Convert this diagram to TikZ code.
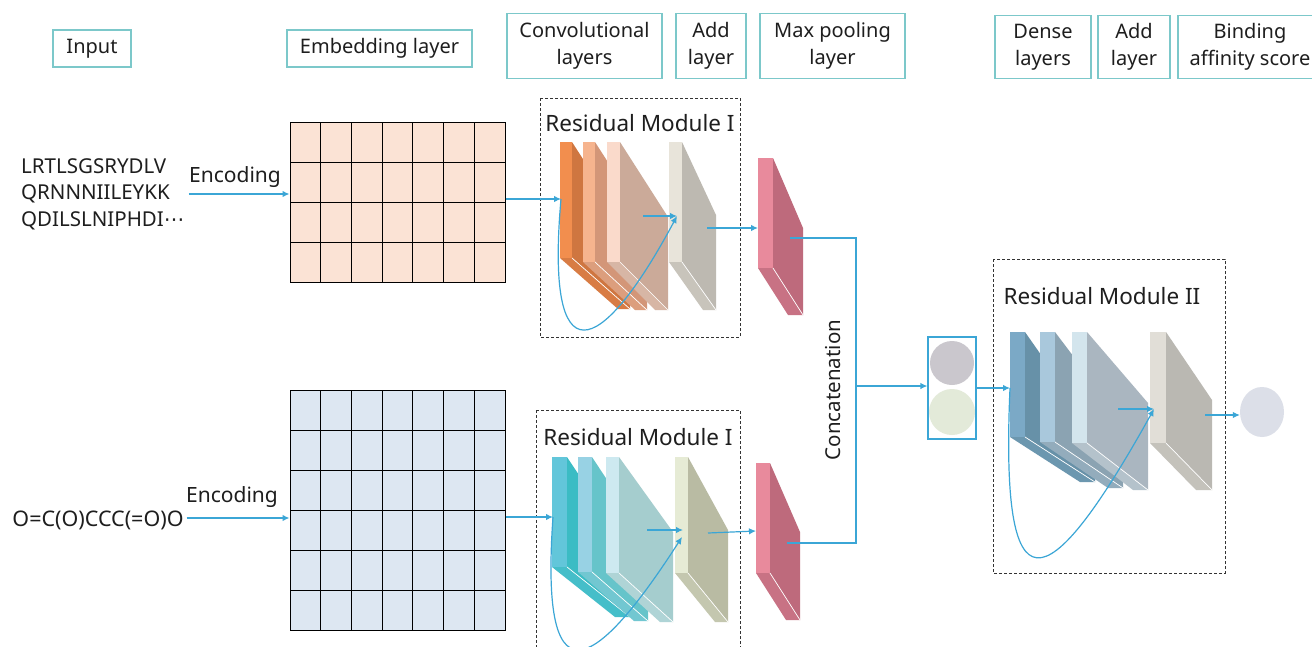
\documentclass[tikz,border=0pt]{standalone}
\usepackage{fontspec}
\setmainfont{Noto Sans}
\newfontfamily\djv{DejaVu Sans}
\usetikzlibrary{arrows.meta,shapes.geometric}
\definecolor{labc}{HTML}{7CC8CA}
\definecolor{txt}{HTML}{1E1E1E}
\definecolor{arrc}{HTML}{3BA6D6}
\definecolor{dashc}{HTML}{333333}
\definecolor{gridA}{HTML}{FBE3D5}
\definecolor{gridB}{HTML}{DDE7F2}
\definecolor{orAf}{HTML}{F28E4E}\definecolor{orAs}{HTML}{CF7640}
\definecolor{orBf}{HTML}{F6B48E}\definecolor{orBs}{HTML}{D39678}
\definecolor{orCf}{HTML}{FADACB}\definecolor{orCs}{HTML}{CBAA99}
\definecolor{adAf}{HTML}{E8E4DA}\definecolor{adAs}{HTML}{BDB9B1}
\definecolor{pkf}{HTML}{E88A9C}\definecolor{pks}{HTML}{BE6A7C}
\definecolor{tlAf}{HTML}{62C6DA}\definecolor{tlAs}{HTML}{3BBCC4}
\definecolor{tlBf}{HTML}{98D2E4}\definecolor{tlBs}{HTML}{66C4CA}
\definecolor{tlCf}{HTML}{CDE9F0}\definecolor{tlCs}{HTML}{A5CDCE}
\definecolor{adBf}{HTML}{E6EBD5}\definecolor{adBs}{HTML}{B9BBA3}
\definecolor{blAf}{HTML}{7BA9C6}\definecolor{blAs}{HTML}{6791A8}
\definecolor{blBf}{HTML}{A9C8DC}\definecolor{blBs}{HTML}{8BA3B2}
\definecolor{blCf}{HTML}{D3E5ED}\definecolor{blCs}{HTML}{AAB6C0}
\definecolor{adCf}{HTML}{E1DED7}\definecolor{adCs}{HTML}{BAB8B2}
\definecolor{cgray}{HTML}{CAC7CD}
\definecolor{cgreen}{HTML}{E3EAD9}
\definecolor{cout}{HTML}{DCDFE8}
% slab: x0 y0 w h dx dy1 dy2 front side
\newcommand{\slab}[9]{%
  \fill[#9] (#1+#3,#2) -- (#1+#3+#5,#2+#6) -- (#1+#3+#5,#2+#4+#7) -- (#1+#3,#2+#4) -- cycle;
  \fill[#9!75!#8] (#1,#2+#4) -- (#1+#3,#2+#4) -- (#1+#3+#5,#2+#4+#7) -- (#1+#5,#2+#4+#7) -- cycle;
  \fill[#8] (#1,#2) rectangle (#1+#3,#2+#4);
  \draw[white, line width=0.7pt] (#1+#3,#2+#4) -- (#1+#3+#5,#2+#4+#7);
}
\tikzset{
  lab/.style={draw=labc, line width=1.1pt, align=center, font=\fontsize{20}{27}\selectfont, text=txt, inner sep=0pt},
  txtn/.style={font=\fontsize{20.5}{26.5}\selectfont, text=txt, inner sep=0pt},
  rmt/.style={font=\fontsize{22.5}{27}\selectfont, text=txt, inner sep=0pt},
  arr/.style={draw=arrc, line width=1.2pt, -{Latex[length=7pt,width=6.5pt]}},
  ln/.style={draw=arrc, line width=1.2pt},
  dbox/.style={draw=dashc, line width=0.8pt, dash pattern=on 3pt off 2pt},
  grid/.style={draw=black, line width=1pt, inner sep=0pt},
}
\begin{document}
\begin{tikzpicture}[x=1pt,y=-1pt]
\useasboundingbox (0,0) rectangle (1312,646);
\clip (0,0) rectangle (1312,646);
\fill[white] (0,0) rectangle (1312,646);

% top labels
\node[lab, minimum width=78pt, minimum height=37pt] (lInput) at (92,48.5) {Input};
\node[lab, minimum width=185pt, minimum height=37pt] (lEmb) at (379.5,48.5) {Embedding layer};
\node[lab, minimum width=155pt, minimum height=65pt] (lConv) at (584.5,46) {Convolutional\\layers};
\node[lab, minimum width=70pt, minimum height=65pt] (lAdd) at (711,46) {Add\\layer};
\node[lab, minimum width=145pt, minimum height=65pt] (lPool) at (832.5,46) {Max pooling\\layer};
\node[lab, minimum width=96pt, minimum height=63pt] (lDense) at (1043,47) {Dense\\layers};
\node[lab, minimum width=72pt, minimum height=63pt] (lAdd2) at (1134,47) {Add\\layer};
\node[lab, minimum width=144pt, minimum height=63pt] (lBind) at (1250,47) {Binding\\affinity score};

% inputs
\node[txtn, align=left, anchor=west] (seq) at (21,194) {LRTLSGSRYDLV\\QRNNNIILEYKK\\QDILSLNIPHDI{\djv ⋯}};
\node[txtn, font=\fontsize{21}{26}\selectfont] (enc1) at (235,177) {Encoding};
\node[txtn, font=\fontsize{21.5}{26}\selectfont] (smi) at (98,520) {O=C(O)CCC(=O)O};
\node[txtn, font=\fontsize{21}{26}\selectfont] (enc2) at (232,497) {Encoding};

% embedding grids
\node[grid, fill=gridA, minimum width=215pt, minimum height=160pt] (emb1) at (397.5,202) {};
\foreach \i in {1,...,6} \draw[line width=1pt] (290+\i*215/7,122) -- (290+\i*215/7,282);
\foreach \j in {1,...,3} \draw[line width=1pt] (290,122+\j*40) -- (505,122+\j*40);
\node[grid, fill=gridB, minimum width=215pt, minimum height=240pt] (emb2) at (397.5,510) {};
\foreach \i in {1,...,6} \draw[line width=1pt] (290+\i*215/7,390) -- (290+\i*215/7,630);
\foreach \j in {1,...,5} \draw[line width=1pt] (290,390+\j*40) -- (505,390+\j*40);

% residual module I (top)
\draw[dbox] (540,98) rectangle (740,337);
\node[rmt] (rm1) at (640,123) {Residual Module I};
\slab{560}{142}{12}{116}{58}{90}{51}{orAf}{orAs}
\slab{583}{142}{12}{120}{52}{81}{48}{orBf}{orBs}
\slab{607}{142}{13}{120}{48}{75}{48}{orCf}{orCs}
\slab{669}{142}{13}{120}{34}{73}{48}{adAf}{adAs}
\slab{758}{158}{15}{110}{30}{70}{47}{pkf}{pks}

% residual module I (bottom)
\draw[dbox] (536,410) rectangle (740,660);
\node[rmt] (rm2) at (638,437) {Residual Module I};
\slab{552}{457}{15}{110}{63}{95}{50}{tlAf}{tlAs}
\slab{578}{457}{14}{115}{56}{85}{49}{tlBf}{tlBs}
\slab{606}{457}{13}{116}{54}{75}{49}{tlCf}{tlCs}
\slab{675}{457}{13}{116}{40}{73}{49}{adBf}{adBs}
\slab{756}{463}{14}{110}{30}{69}{47}{pkf}{pks}

% residual module II
\draw[dbox] (993,259) rectangle (1225,573);
\node[rmt] (rm3) at (1102,296) {Residual Module II};
\slab{1010}{332}{15}{105}{70}{100}{45}{blAf}{blAs}
\slab{1040}{332}{15}{110}{68}{90}{46}{blBf}{blBs}
\slab{1072}{332}{15}{111}{61}{71}{47}{blCf}{blCs}
\slab{1150}{332}{16}{111}{46}{68}{47}{adCf}{adCs}

% concatenation box and output
\fill[cgray] (952,363) circle (22pt);
\fill[cgreen] (952,412) circle (23pt);
\node[draw=arrc, line width=1.2pt, minimum width=48pt, minimum height=102pt, inner sep=0pt] (cat) at (952,388) {};
\node[fill=cout, ellipse, minimum width=44pt, minimum height=50pt, inner sep=0pt] (out) at (1262,412) {};
\node[txtn, rotate=90] (concat) at (833,390) {Concatenation};

% connector coordinates
\coordinate (t1) at (561,199);
\coordinate (t2a) at (643,216);
\coordinate (t2) at (677,216);
\coordinate (t3a) at (707,228);
\coordinate (t3) at (758,228);
\coordinate (t4) at (790,238);
\coordinate (b1) at (553,517);
\coordinate (b2a) at (647,530);
\coordinate (b2) at (683,530);
\coordinate (b3a) at (708,533);
\coordinate (b3) at (756,531);
\coordinate (b4) at (787,543);
\coordinate (jx) at (856,386);
\coordinate (m1) at (1010,388);
\coordinate (m2a) at (1118,409);
\coordinate (m2) at (1154,409);
\coordinate (m3a) at (1205,415);

% arrows
\draw[arr] (enc1.west |- 0,194) -- (emb1.west |- 0,194);
\draw[arr] (emb1.east |- t1) -- (t1);
\draw[arr] (t2a) -- (t2);
\draw[arr] (t3a) -- (t3);
\draw[arr] (t1) .. controls (545,380) and (600,360) .. (t2);
\draw[ln] (t4) -- (856,238) -- (856,543) -- (b4);

\draw[arr] (smi.east |- 0,518) ++(3,0) -- (emb2.west |- 0,518);
\draw[arr] (emb2.east |- b1) -- (b1);
\draw[arr] (b2a) -- (b2);
\draw[arr] (b3a) -- (b3);
\draw[arr] (b1) .. controls (540,700) and (590,680) .. (682,537);

\draw[arr] (jx) -- (cat.west |- jx);
\draw[arr] (cat.east |- m1) -- (m1);
\draw[arr] (m2a) -- (m2);
\draw[arr] (m1) .. controls (1000,615) and (1045,605) .. (m2);
\draw[arr] (m3a) -- (out.west |- m3a);
\end{tikzpicture}
\end{document}
